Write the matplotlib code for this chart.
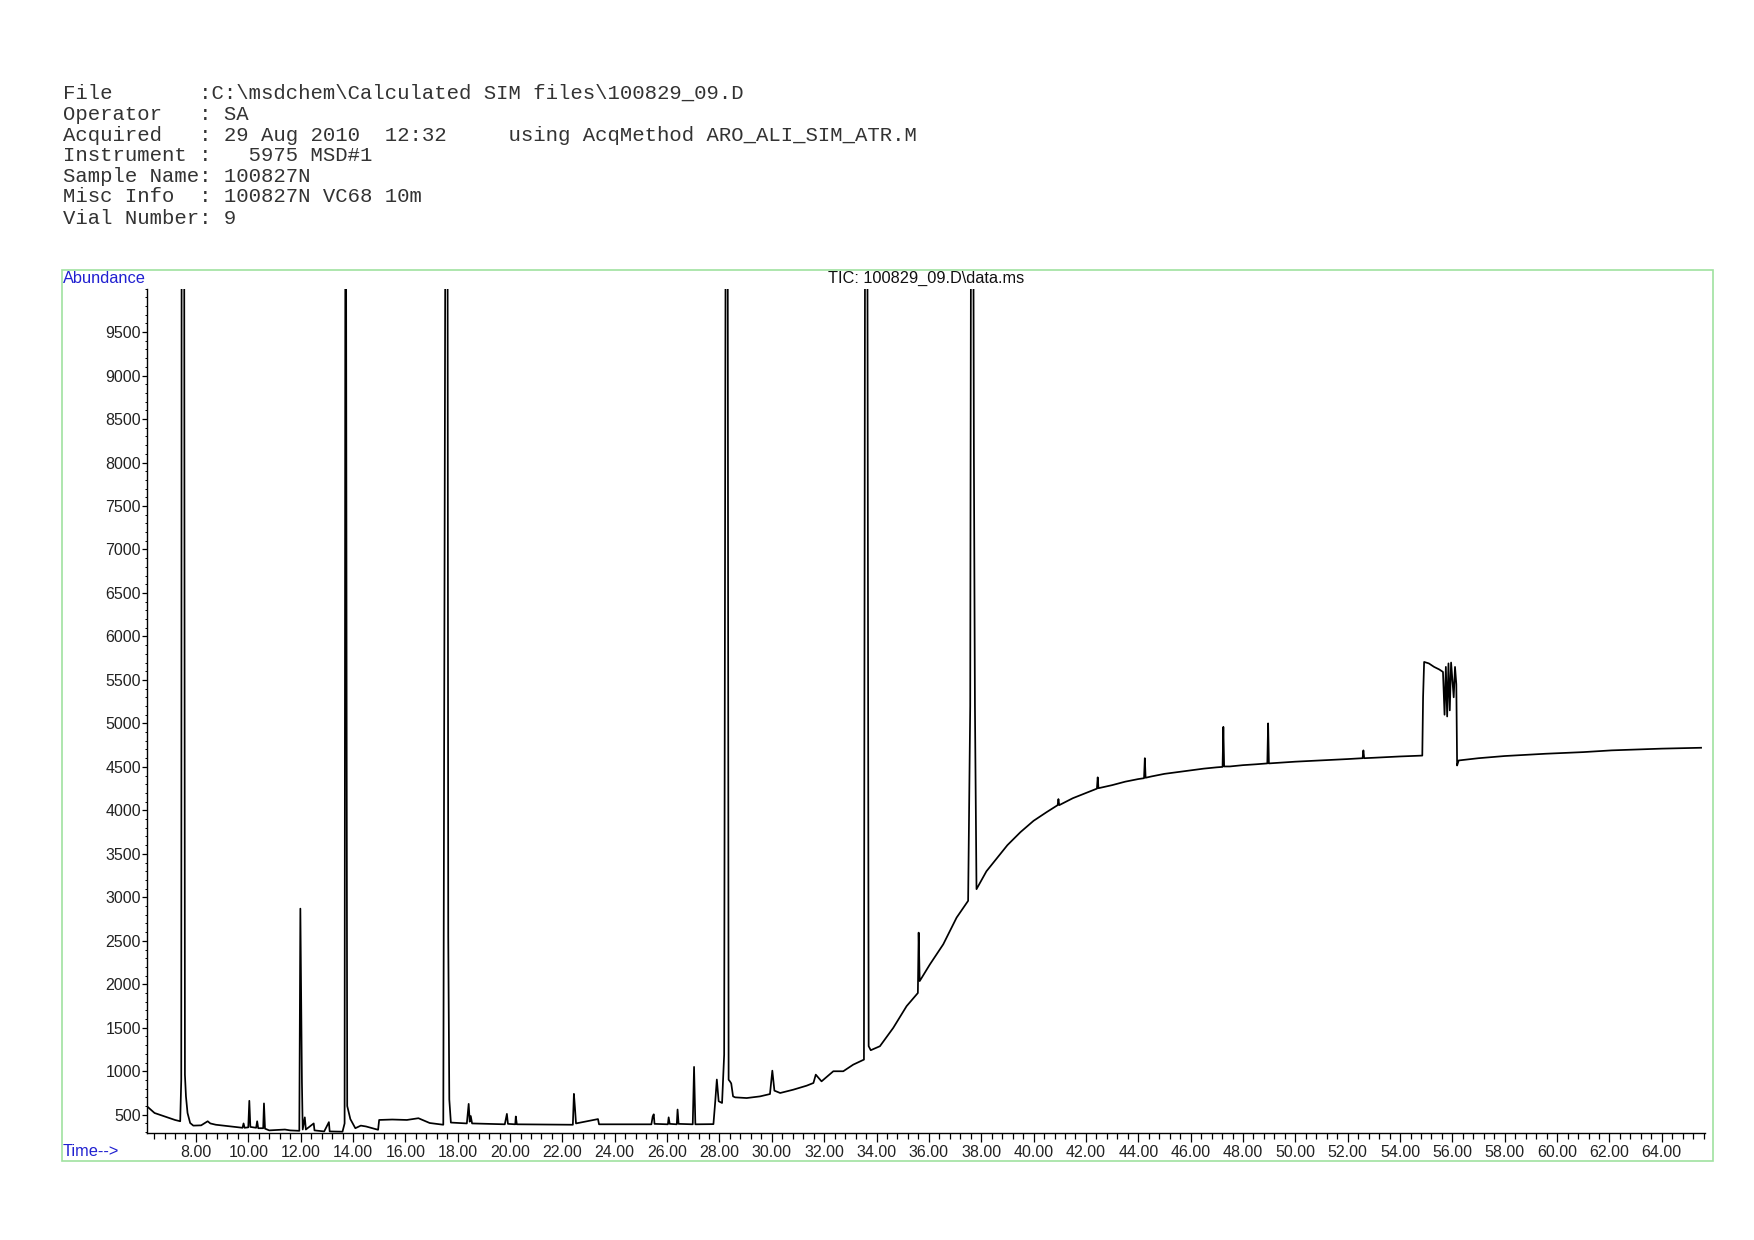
#!/usr/bin/env python

"""TIC chromatogram of 100829_09.D redrawn with matplotlib."""

import numpy as np
import matplotlib.pyplot as plt
from matplotlib.patches import Rectangle
from matplotlib.ticker import MultipleLocator, FixedLocator, FormatStrFormatter

header_lines = [
    r"File       :C:\msdchem\Calculated SIM files\100829_09.D",
    r"Operator   : SA",
    r"Acquired   : 29 Aug 2010  12:32     using AcqMethod ARO_ALI_SIM_ATR.M",
    r"Instrument :   5975 MSD#1",
    r"Sample Name: 100827N",
    r"Misc Info  : 100827N VC68 10m",
    r"Vial Number: 9",
]
trace_title = r"TIC: 100829_09.D\data.ms"

# retention time (min) / abundance, in three stretches
early_time = [6.12, 6.42, 6.86, 7.20, 7.40, 7.44, 7.46, 7.48, 7.50, 7.52, 7.54, 7.58,
              7.62, 7.68, 7.78, 7.90, 8.20, 8.45, 8.55, 8.76, 9.20, 9.78, 9.82, 9.86,
              10.00, 10.04, 10.08, 10.30, 10.34, 10.38, 10.57, 10.60, 10.64, 10.80,
              11.40, 11.60, 11.95, 11.99, 12.03, 12.05, 12.08, 12.16, 12.20, 12.50,
              12.53, 12.90, 13.08, 13.11, 13.60, 13.68, 13.72, 13.76, 13.78, 13.90,
              14.09, 14.30, 14.50, 14.74, 14.96, 15.00, 15.50, 16.06, 16.50, 16.93,
              17.45, 17.56, 17.60, 17.64, 17.68, 17.74, 18.35, 18.42, 18.46, 18.50,
              18.55, 19.80, 19.88, 19.92, 20.20, 20.22, 20.26, 22.40, 22.44, 22.48,
              22.52, 23.36, 23.40, 25.40, 25.45, 25.49, 25.52, 26.03, 26.06, 26.10,
              26.37, 26.40, 26.44, 26.98, 27.03, 27.08, 27.77, 27.84, 27.90, 27.97,
              28.10, 28.18]
early_abund = [600, 520, 475, 440, 425, 900, 15000, 12000, 15000, 13000, 15000, 960,
               710, 520, 405, 375, 378, 425, 400, 385, 370, 350, 400, 350,
               355, 660, 360, 350, 425, 345, 345, 630, 340, 320,
               330, 320, 315, 2870, 1500, 870, 330, 470, 330, 400,
               320, 308, 415, 308, 305, 400, 15000, 4570, 600, 450,
               345, 375, 365, 345, 327, 440, 445, 440, 460, 405,
               385, 15000, 15000, 2550, 675, 410, 400, 625, 420, 485,
               400, 390, 510, 395, 390, 480, 390, 385, 740, 580,
               400, 450, 390, 390, 480, 505, 395, 390, 470, 395,
               390, 560, 395, 390, 1050, 390, 392, 655, 905, 655,
               635, 1190]

mid_time = [28.26, 28.30, 28.35, 28.40, 28.45, 28.52, 28.60, 29.04, 29.55, 29.93,
            30.02, 30.10, 30.32, 30.82, 31.33, 31.59, 31.68, 31.90, 32.35, 32.73,
            33.11, 33.52, 33.58, 33.63, 33.70, 33.78, 34.13, 34.64, 35.15, 35.53,
            35.58, 35.61, 35.65, 36.04, 36.55, 37.06, 37.50, 37.58, 37.63, 37.67,
            37.72, 37.76, 37.82]
mid_abund = [15000, 15000, 903, 884, 860, 711, 700, 692, 711, 738,
             1007, 777, 750, 788, 834, 865, 961, 884, 1000, 1000,
             1076, 1134, 15000, 15000, 1288, 1242, 1288, 1499, 1749, 1883,
             1900, 2594, 2037, 2229, 2460, 2767, 2960, 5200, 15000, 15000,
             8100, 5200, 3094]

late_time = [38.20, 38.60, 39.00, 39.50, 40.00, 40.50, 40.92, 40.95, 40.98, 41.50,
             42.00, 42.42, 42.45, 42.48, 43.00, 43.50, 44.00, 44.22, 44.25, 44.28,
             44.50, 45.00, 45.50, 46.00, 46.50, 47.00, 47.22, 47.25, 47.28, 47.50,
             48.00, 48.50, 48.93, 48.96, 48.99, 50.00, 51.00, 52.00, 52.57, 52.60,
             52.63, 53.00, 54.00, 54.85, 54.88, 54.92, 55.10, 55.30, 55.50, 55.64,
             55.70, 55.75, 55.80, 55.85, 55.90, 55.95, 56.05, 56.10, 56.15, 56.18,
             56.24, 57.00, 58.00, 59.55, 61.00, 62.08, 63.00, 64.00, 65.50]
late_abund = [3300, 3450, 3600, 3750, 3880, 3980, 4060, 4130, 4060, 4140,
              4200, 4250, 4380, 4255, 4290, 4330, 4360, 4370, 4600, 4375,
              4390, 4420, 4440, 4460, 4480, 4495, 4500, 4960, 4505, 4505,
              4520, 4530, 4540, 5000, 4540, 4560, 4575, 4590, 4600, 4690,
              4600, 4605, 4620, 4630, 5300, 5707, 5690, 5650, 5620, 5592,
              5100, 5650, 5080, 5690, 5150, 5700, 5300, 5650, 5450, 4516,
              4574, 4600, 4625, 4651, 4670, 4690, 4700, 4710, 4720]

time = np.array(early_time + mid_time + late_time)
abund = np.array(early_abund + mid_abund + late_abund)

W, H = 1754, 1240
fig = plt.figure(figsize=(W / 100, H / 100), dpi=100)

# light green frame around the chromatogram
fig.patches.append(Rectangle((61.5 / W, 1 - 1161 / H), (1712.6 - 61.5) / W,
                             (1161 - 269.6) / H, transform=fig.transFigure,
                             fill=False, edgecolor="#9fe29f", linewidth=1.2))

mono = "Liberation Mono"
ys = [92.8, 114.1, 135.3, 155.5, 176.7, 196.9, 218.1]
for line, y in zip(header_lines, ys):
    fig.text(62.6 / W, 1 - y / H, line, family=mono, fontsize=14.9,
             va="center", ha="left", color="#333333")

left, right = 146.7 / W, 1705 / W
bottom, top = 1 - 1133 / H, 1 - 288.6 / H
ax = fig.add_axes([left, bottom, right - left, top - bottom])
ax.plot(time, abund, color="black", linewidth=1.25)

ax.set_xlim(6.12, 65.65)
ax.set_ylim(290, 10000)
for s in ["top", "right"]:
    ax.spines[s].set_visible(False)
ax.spines["left"].set_linewidth(1)
ax.spines["bottom"].set_linewidth(1)

ax.xaxis.set_major_locator(FixedLocator(np.arange(8, 65, 2)))
ax.xaxis.set_minor_locator(FixedLocator(np.arange(6.4, 65.7, 0.4)))
ax.xaxis.set_major_formatter(FormatStrFormatter("%.2f"))
ax.yaxis.set_major_locator(FixedLocator(np.arange(500, 9600, 500)))
ax.yaxis.set_minor_locator(MultipleLocator(100))

ax.tick_params(axis="x", which="major", length=6.5, width=0.9, pad=2,
               labelsize=11.5, labelcolor="#222222")
ax.tick_params(axis="x", which="minor", length=4.1, width=0.9)
ax.tick_params(axis="y", which="major", length=3.6, width=0.9, pad=0.5,
               labelsize=11.5, labelcolor="#222222")
ax.tick_params(axis="y", which="minor", length=1.5, width=0.7)
for lab in ax.get_xticklabels() + ax.get_yticklabels():
    lab.set_family("Liberation Sans")

fig.text(62.6 / W, 1 - 278.5 / H, "Abundance", family="Liberation Sans",
         fontsize=11.8, color="#2020d0", ha="left", va="center")
fig.text(62.6 / W, 1 - 1152 / H, "Time-->", family="Liberation Sans",
         fontsize=11.8, color="#2020d0", ha="left", va="center")
fig.text((left + right) / 2, 1 - 278.5 / H, trace_title, family="Liberation Sans",
         fontsize=11.8, color="#111111", ha="center", va="center")

plt.savefig("out.png", dpi=100)
